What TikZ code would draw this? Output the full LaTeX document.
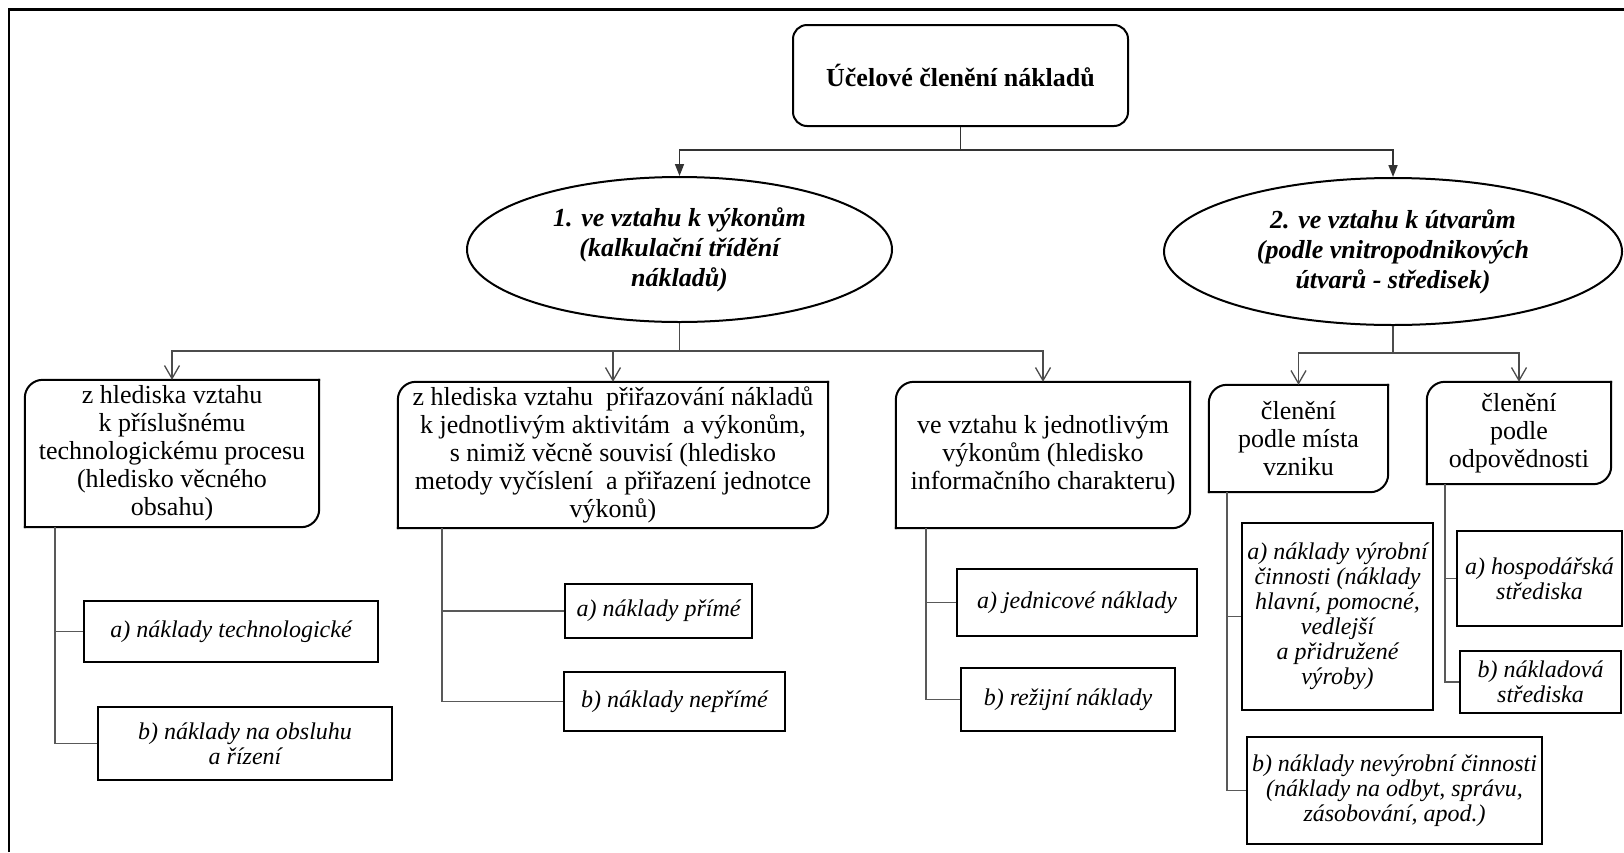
\documentclass[tikz,border=0pt]{standalone}
\usepackage{fontspec}
\setmainfont{Liberation Serif}
\usetikzlibrary{arrows.meta,shapes.geometric}
\begin{document}
\begin{tikzpicture}[x=1pt,y=-1pt,
  titlebox/.style={draw, line width=2pt, rounded corners=14pt, minimum width=335pt, minimum height=101pt, inner sep=0pt, font=\fontsize{26}{28}\selectfont\bfseries},
  oval/.style={ellipse, draw, line width=2pt, inner sep=0pt, align=center, font=\fontsize{26}{30}\selectfont\bfseries\itshape},
  lvtwo/.style={inner sep=0pt, align=center, font=\fontsize{26}{28}\selectfont},
  leaf/.style={draw, line width=2.5pt, inner sep=0pt, align=center, font=\fontsize{24}{25}\selectfont\itshape},
  topconn/.style={draw=black!80, line width=1.6pt, -{Triangle[length=12pt,width=9pt]}},
  midconn/.style={draw=black!70, line width=1.3pt, -{Straight Barb[length=13pt,width=15pt]}},
  branch/.style={draw=black!65, line width=1.6pt},
  cornerline/.style={line width=2pt, rounded corners=18pt, line cap=rect}
]
\useasboundingbox (0,0) rectangle (1624,852);
\fill[white] (0,0) rectangle (1624,852);
\draw[line width=2.5pt] (9,852) |- (1624,9.5);

% top
\node[titlebox] (T) at (960.5,75.5) {Účelové členění nákladů};
\node[oval, minimum width=425pt, minimum height=145pt] (E1) at (679.5,249.5) {1. ve vztahu k výkonům\\(kalkulační třídění\\nákladů)};
\node[oval, minimum width=458pt, minimum height=147pt] (E2) at (1393,251.5) {2. ve vztahu k útvarům\\(podle vnitropodnikových\\útvarů - středisek)};

% level two
\node[lvtwo, minimum width=294pt, minimum height=147pt] (B1) at (172,453.5) {z hlediska vztahu\\k příslušnému\\technologickému procesu\\(hledisko věcného\\obsahu)};
\node[lvtwo, minimum width=430pt, minimum height=146pt] (B2) at (613,455) {z hlediska vztahu\ \ přiřazování nákladů\\k jednotlivým aktivitám\ \ a výkonům,\\s nimiž věcně souvisí (hledisko\\metody vyčíslení\ \ a přiřazení jednotce\\výkonů)};
\node[lvtwo, minimum width=294pt, minimum height=146pt] (B3) at (1043,455) {ve vztahu k jednotlivým\\výkonům (hledisko\\informačního charakteru)};
\node[lvtwo, minimum width=179pt, minimum height=107pt] (B4) at (1298.5,438.5) {členění\\podle místa\\vzniku};
\node[lvtwo, minimum width=184pt, minimum height=102pt] (B5) at (1519,433) {členění\\podle\\odpovědnosti};

\foreach \n in {B1,B2,B3,B4,B5}{
  \draw[cornerline] (\n.south west) -- (\n.north west) -- (\n.north east);
  \draw[cornerline] (\n.north east) -- (\n.south east) -- (\n.south west);
}

% leaves
\node[leaf, minimum width=294pt, minimum height=61pt] (B1a) at (231,631.5) {a) náklady technologické};
\node[leaf, minimum width=294pt, minimum height=73pt] (B1b) at (245,743.5) {b) náklady na obsluhu\\a řízení};
\node[leaf, minimum width=187pt, minimum height=54pt] (B2a) at (658.5,611) {a) náklady přímé};
\node[leaf, minimum width=221pt, minimum height=59pt] (B2b) at (674.5,701.5) {b) náklady nepřímé};
\node[leaf, minimum width=240pt, minimum height=67pt] (B3a) at (1077,602.5) {a) jednicové náklady};
\node[leaf, minimum width=214pt, minimum height=63pt] (B3b) at (1068,699.5) {b) režijní náklady};
\node[leaf, minimum width=191pt, minimum height=187pt] (B4a) at (1337.5,616.5) {a) náklady výrobní\\činnosti (náklady\\hlavní, pomocné,\\vedlejší\\a přidružené\\výroby)};
\node[leaf, minimum width=295pt, minimum height=107pt] (B4b) at (1394.5,790.5) {b) náklady nevýrobní činnosti\\(náklady na odbyt, správu,\\zásobování, apod.)};
\node[leaf, minimum width=165pt, minimum height=95pt] (B5a) at (1539.5,578.5) {a) hospodářská\\střediska};
\node[leaf, minimum width=161pt, minimum height=62pt] (B5b) at (1540.5,682) {b) nákladová\\střediska};

% connectors
\draw[topconn] (T.south) -- ++(0,23) -| (E1.north);
\draw[topconn] (T.south) -- ++(0,23) -| (E2.north);
\draw[midconn] (E1.south) -- ++(0,28) -| (B1.north);
\draw[midconn] (E1.south) -- ++(0,28) -| (B2.north);
\draw[midconn] (E1.south) -- ++(0,28) -| (B3.north);
\draw[midconn] (E2.south) -- ++(0,27) -| (B4.north);
\draw[midconn] (E2.south) -- ++(0,27) -| (B5.north);

\coordinate (v1) at ([xshift=30pt]B1.south west);
\coordinate (v2) at ([xshift=44pt]B2.south west);
\coordinate (v3) at ([xshift=30pt]B3.south west);
\coordinate (v4) at ([xshift=18pt]B4.south west);
\coordinate (v5) at ([xshift=18pt]B5.south west);
\draw[branch] (v1) |- (B1b.west);
\draw[branch] (v1 |- B1a.west) -- (B1a.west);
\draw[branch] (v2) |- (B2b.west);
\draw[branch] (v2 |- B2a.west) -- (B2a.west);
\draw[branch] (v3) |- (B3b.west);
\draw[branch] (v3 |- B3a.west) -- (B3a.west);
\draw[branch] (v4) |- (B4b.west);
\draw[branch] (v4 |- B4a.west) -- (B4a.west);
\draw[branch] (v5) |- (B5b.west);
\draw[branch] (v5 |- B5a.west) -- (B5a.west);
\end{tikzpicture}
\end{document}
